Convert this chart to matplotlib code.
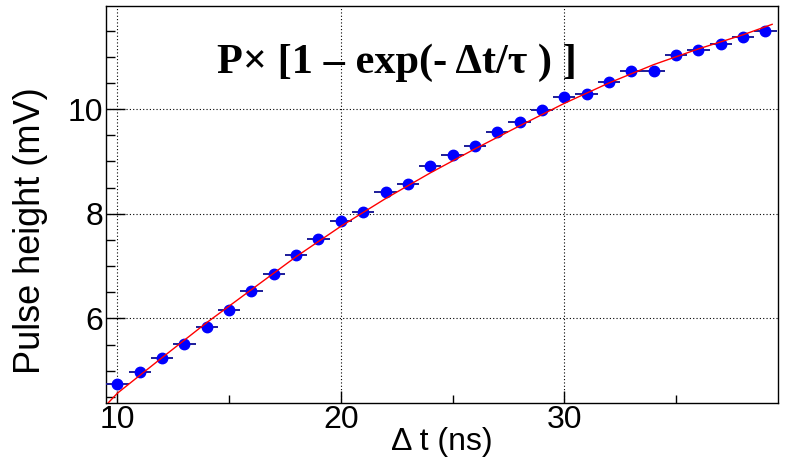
import matplotlib.pyplot as plt
from matplotlib.ticker import MultipleLocator

# measured points (delta t in ns, pulse height in mV)
dt = [10, 11, 12, 13, 14, 15, 16, 17, 18, 19,
      20, 21, 22, 23, 24, 25, 26, 27, 28, 29,
      30, 31, 32, 33, 34, 35, 36, 37, 38, 39]
pulse = [4.74, 4.98, 5.24, 5.52, 5.84, 6.17, 6.53, 6.85, 7.21, 7.52,
         7.86, 8.03, 8.41, 8.56, 8.92, 9.13, 9.30, 9.56, 9.75, 9.98,
         10.24, 10.29, 10.52, 10.73, 10.73, 11.03, 11.12, 11.25, 11.37, 11.50]
dt_err = [0.5] * len(dt)

# fitted curve
fit_t = [9.6, 10, 12, 14, 16, 18, 20, 22, 24, 26, 28, 30, 32, 34, 36, 38, 39.3]
fit_v = [4.39, 4.57, 5.25, 5.92, 6.55, 7.18, 7.76, 8.29, 8.78, 9.24, 9.68,
         10.11, 10.50, 10.85, 11.15, 11.42, 11.62]

plt.rcParams['font.family'] = ['Liberation Sans', 'DejaVu Sans']

fig = plt.figure(figsize=(7.86, 4.62), dpi=100)
ax = fig.add_axes([0.1345, 0.1284, 0.855, 0.8586])

ax.errorbar(dt, pulse, xerr=dt_err, fmt='o', color='#0000ff', ecolor='#1c1c99',
            elinewidth=1.4, markersize=7.5, capsize=0, zorder=3)
ax.plot(fit_t, fit_v, color='red', lw=1, zorder=4)

ax.set_xlim(9.48, 39.55)
ax.set_ylim(4.39, 11.97)

ax.xaxis.set_major_locator(MultipleLocator(10))
ax.xaxis.set_minor_locator(MultipleLocator(5))
ax.yaxis.set_major_locator(MultipleLocator(2))
ax.yaxis.set_minor_locator(MultipleLocator(0.5))

ax.tick_params(axis='x', which='major', direction='in', length=9, width=1, labelsize=23, pad=2)
ax.tick_params(axis='x', which='minor', direction='in', length=5.5, width=1)
ax.tick_params(axis='y', which='major', direction='in', length=13.5, width=1, labelsize=23, pad=2)
ax.tick_params(axis='y', which='minor', direction='in', length=6.7, width=1)

ax.grid(which='major', linestyle=(0, (1, 2)), color='black', linewidth=0.8)
for s in ax.spines.values():
    s.set_linewidth(1)

ax.set_xlabel('\u0394 t (ns)', fontsize=23)
ax.xaxis.set_label_coords(0.5, -0.062)
ax.set_ylabel('Pulse height (mV)', fontsize=26)
ax.yaxis.set_label_coords(-0.086, 0.435)

ax.text(0.165, 0.83, 'P\u00d7 [1 \u2013 exp(- \u0394t/\u03c4 ) ]', transform=ax.transAxes,
        fontsize=30.5, fontweight='bold', family=['Liberation Serif', 'DejaVu Serif'],
        ha='left', va='baseline')

fig.savefig('out.png', dpi=100)
